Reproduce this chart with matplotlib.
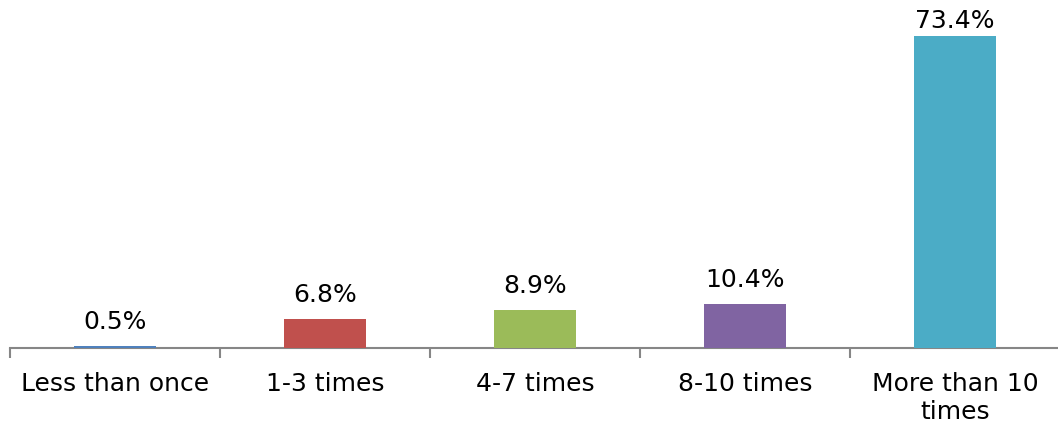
import matplotlib
matplotlib.use("Agg")
import matplotlib.pyplot as plt
import numpy as np

categories = ["Less than once", "1-3 times", "4-7 times", "8-10 times", "More than 10\ntimes"]
values = [0.5, 6.8, 8.9, 10.4, 73.4]
value_labels = ["0.5%", "6.8%", "8.9%", "10.4%", "73.4%"]
colors = ["#4F81BD", "#C0504D", "#9BBB59", "#8064A2", "#4BACC6"]

W, H = 1058, 430
fig = plt.figure(figsize=(W / 100, H / 100), dpi=100)
ax = fig.add_axes([10 / W, (H - 348) / H, 1050 / W, 348 / H])

x = np.arange(len(categories))
bars = ax.bar(x, values, width=0.39, color=colors, zorder=3)

ax.set_xlim(-0.5, len(categories) - 0.5)
ax.set_ylim(0, 81.9)

# value labels sit above the bars, pulled down when they would leave the figure
fig.canvas.draw()
to_px = ax.transData
for b, lab in zip(bars, value_labels):
    cx = b.get_x() + b.get_width() / 2
    top_px = to_px.transform((cx, b.get_height()))[1]
    room = (H - 28) - top_px  # keep the baseline at least 28 px below the top edge
    off_px = min(17, max(room, 4))
    ax.annotate(lab, (cx, b.get_height()),
                xytext=(0, off_px * 72 / 100), textcoords="offset points",
                ha="center", va="baseline", fontsize=18, color="#000000")

for s in ["top", "right", "left"]:
    ax.spines[s].set_visible(False)
ax.spines["bottom"].set_color("#868686")
ax.spines["bottom"].set_linewidth(1.5)
ax.spines["bottom"].set_zorder(1)

ax.set_yticks([])
ax.set_xticks(x)
ax.set_xticklabels(categories, fontsize=18, linespacing=1.22)
ax.tick_params(axis="x", which="major", length=0, pad=17.5)
ax.set_xticks(np.arange(-0.5, len(categories), 1.0), minor=True)
ax.tick_params(axis="x", which="minor", length=7.5, width=1.5, color="#868686")

fig.savefig("out.png", dpi=100)
